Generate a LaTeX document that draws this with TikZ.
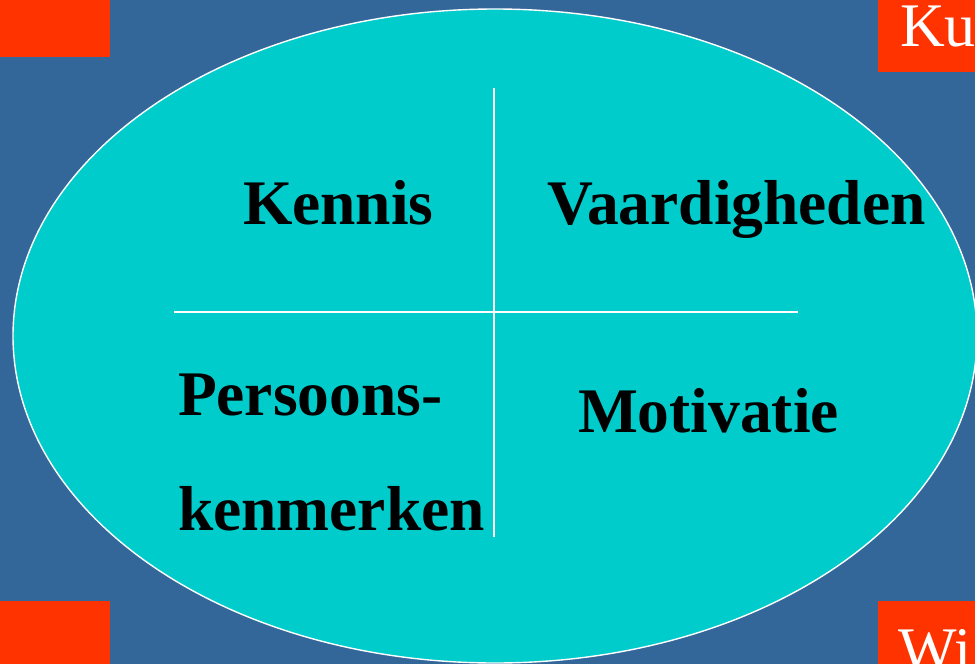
\documentclass[tikz,border=0pt]{standalone}
\usepackage{fontspec}
\setmainfont{Liberation Serif}
\definecolor{bgblue}{HTML}{336699}
\definecolor{redorange}{HTML}{FF3300}
\definecolor{ovalcyan}{HTML}{00CCCC}
\begin{document}
\begin{tikzpicture}[x=1pt,y=-1pt,
  corner/.style={fill=redorange,draw=none},
  label/.style={anchor=base west,inner sep=0pt,outer sep=0pt,text=black,font=\fontsize{63.5}{70}\selectfont\bfseries},
  cornertext/.style={anchor=base west,inner sep=0pt,outer sep=0pt,text=white,font=\fontsize{62}{70}\selectfont},
  divider/.style={draw=white,line width=1.6pt}]
\useasboundingbox (0,0) rectangle (975,664);
\fill[bgblue] (0,0) rectangle (975,664);
\begin{scope}
\clip (0,0) rectangle (975,664);
\fill[corner] (0,0) rectangle (110,57);
\fill[corner] (878,0) rectangle (975,72);
\fill[corner] (0,601) rectangle (110,664);
\fill[corner] (878,601) rectangle (975,664);
\node[cornertext] (ku) at (900,46) {Ku};
\node[cornertext] (wi) at (898,670) {Wi};
\draw[fill=ovalcyan,draw=white,line width=1.4pt] (495,336) ellipse [x radius=482,y radius=327];
\end{scope}
\coordinate (vtop) at (494,88);
\coordinate (vbot) at (494,537);
\coordinate (hleft) at (174,312);
\coordinate (hright) at (798,312);
\draw[divider] (vtop) -- (vbot);
\draw[divider] (hleft) -- (hright);
\node[label] (kennis) at (243,224) {Kennis};
\node[label] (vaard) at (547,224) {Vaardigheden};
\node[label] (pers) at (178,415) {Persoons-};
\node[label] (kenm) at (178,530) {kenmerken};
\node[label] (motiv) at (578,432) {Motivatie};
\end{tikzpicture}
\end{document}
